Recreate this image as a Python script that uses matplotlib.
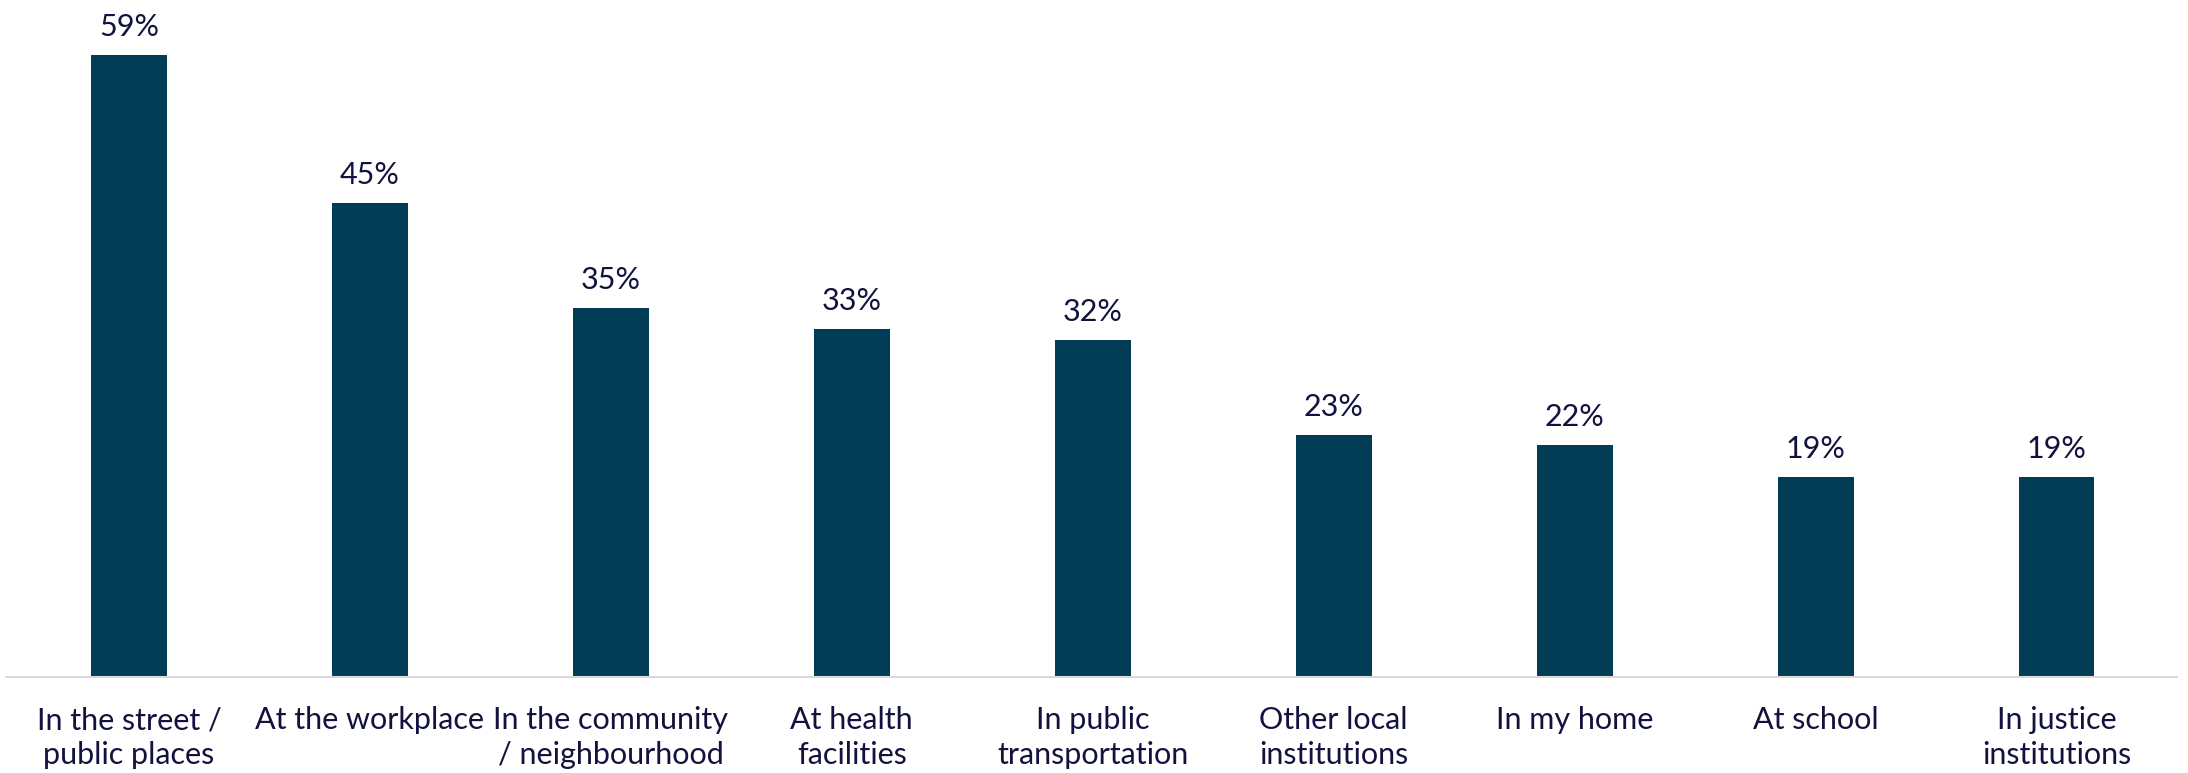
import matplotlib.pyplot as plt
import numpy as np

# Where harassment was experienced (% of respondents)
categories = [
    "In the street /\npublic places",
    "At the workplace",
    "In the community\n/ neighbourhood",
    "At health\nfacilities",
    "In public\ntransportation",
    "Other local\ninstitutions",
    "In my home",
    "At school",
    "In justice\ninstitutions",
]
values = [59, 45, 35, 33, 32, 23, 22, 19, 19]

BAR = "#023D58"
TEXT = "#12123F"
AXIS = "#D9D9D9"

plt.rcParams["font.family"] = ["Lato", "DejaVu Sans"]

fig = plt.figure(figsize=(21.88, 7.73), dpi=100)
ax = fig.add_axes([6 / 2188, (773 - 677) / 773, (2177 - 6) / 2188, 660 / 773])

x = np.arange(len(values))
bars = ax.bar(x, values, width=0.315, color=BAR, edgecolor="none")

for bar, val in zip(bars, values):
    ax.annotate(f"{val}%", (bar.get_x() + bar.get_width() / 2, val),
                xytext=(0, 10), textcoords="offset points",
                ha="center", va="bottom", fontsize=22, color=TEXT)

ax.set_xlim(-0.51, 8.5)
ax.set_ylim(0, 62.6)
ax.set_xticks(x)
ax.set_xticklabels(categories, fontsize=22, color=TEXT, linespacing=1.3)
ax.tick_params(axis="x", length=0, pad=21)
ax.set_yticks([])

for side in ["top", "right", "left"]:
    ax.spines[side].set_visible(False)
ax.spines["bottom"].set_color(AXIS)
ax.spines["bottom"].set_linewidth(1.5)

fig.savefig("out.png", dpi=100, facecolor="white")
